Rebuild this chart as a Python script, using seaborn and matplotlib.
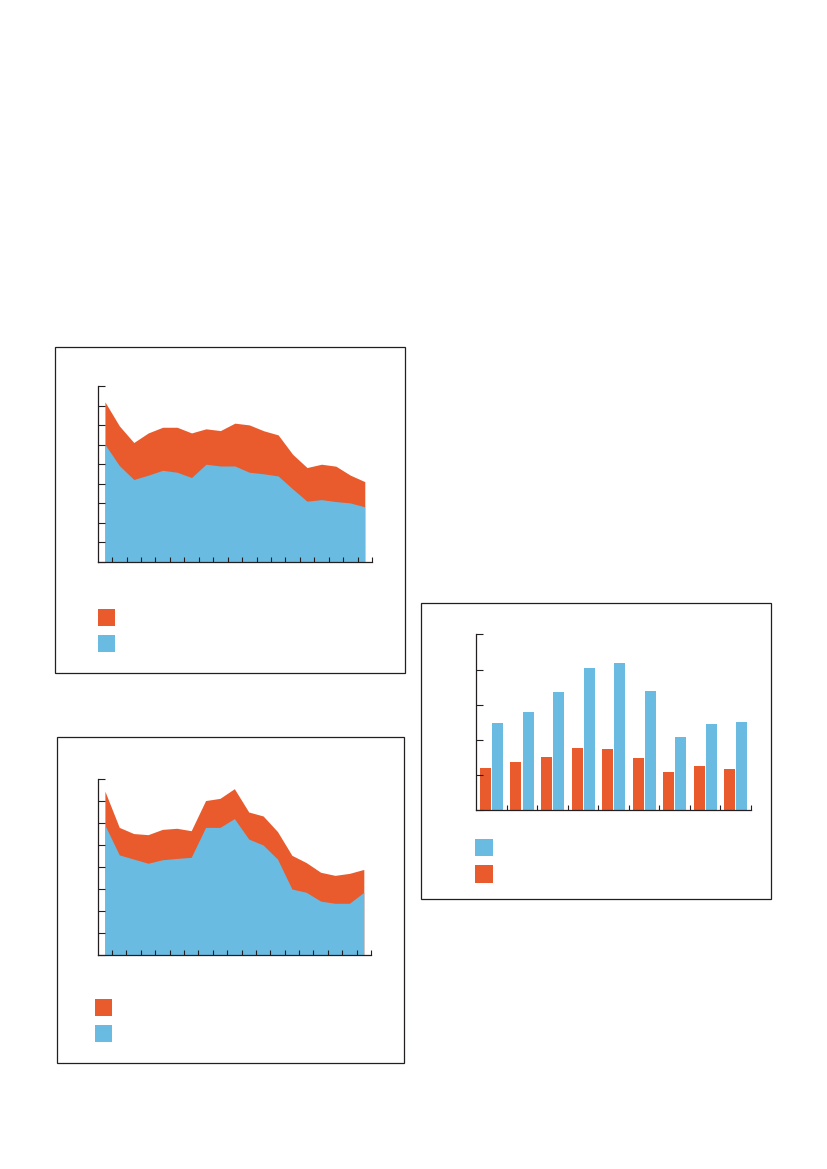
import numpy as np
import pandas as pd
import matplotlib
matplotlib.use("Agg")
import matplotlib.pyplot as plt
from matplotlib.patches import Rectangle
import seaborn as sns

ORANGE = "#e95b2c"
BLUE = "#69bbe2"

# top area chart: 19 points
area1_total = [8.19, 6.96, 6.11, 6.60, 6.89, 6.89, 6.60, 6.81, 6.72, 7.10,
               7.01, 6.71, 6.50, 5.51, 4.83, 5.00, 4.90, 4.44, 4.11]
area1_blue = [6.02, 4.93, 4.22, 4.44, 4.69, 4.59, 4.32, 5.00, 4.91, 4.91,
              4.59, 4.51, 4.40, 3.74, 3.11, 3.19, 3.09, 3.02, 2.82]

# bottom area chart
area2_total = [7.45, 5.80, 5.52, 5.47, 5.71, 5.76, 5.65, 7.02, 7.12, 7.56,
               6.50, 6.32, 5.61, 4.53, 4.20, 3.76, 3.62, 3.71, 3.89]
area2_blue = [5.91, 4.55, 4.36, 4.17, 4.33, 4.39, 4.44, 5.80, 5.80, 6.20,
              5.27, 5.00, 4.36, 3.00, 2.85, 2.45, 2.35, 2.35, 2.85]

# bar chart: 9 groups
bar_groups = ["1", "2", "3", "4", "5", "6", "7", "8", "9"]
bar_orange = [1.21, 1.36, 1.52, 1.76, 1.75, 1.49, 1.08, 1.27, 1.18]
bar_blue = [2.49, 2.80, 3.36, 4.03, 4.18, 3.38, 2.09, 2.46, 2.52]

sns.set_style("ticks")
plt.rcParams["font.family"] = ["DejaVu Sans"]
plt.rcParams["axes.axisbelow"] = False

W, H = 827, 1169
fig = plt.figure(figsize=(8.27, 11.69), dpi=100)


def px_axes(x0, y0, x1, y1):
    # pixel box (top-left origin) -> axes
    return fig.add_axes([x0 / W, 1 - y1 / H, (x1 - x0) / W, (y1 - y0) / H])


def frame(x0, y0, x1, y1):
    fig.add_artist(Rectangle((x0 / W, 1 - y1 / H), (x1 - x0) / W, (y1 - y0) / H,
                             transform=fig.transFigure, fill=False,
                             edgecolor="#231f20", linewidth=0.9))


def swatch(x0, y0, size, color):
    fig.add_artist(Rectangle((x0 / W, 1 - (y0 + size) / H), size / W, size / H,
                             transform=fig.transFigure, facecolor=color,
                             edgecolor="none"))


def style_axes(ax, ymax, xmax, xlen=3.6, ylen=4.8):
    sns.despine(ax=ax)
    ax.set_axisbelow(False)
    for s in ["left", "bottom"]:
        ax.spines[s].set_linewidth(0.9)
        ax.spines[s].set_color("#231f20")
    ax.set_ylim(0, ymax)
    ax.set_yticks(np.arange(0, ymax + 1))
    ax.set_xlim(-0.5, xmax + 0.5)
    ax.set_xticks(np.arange(0, xmax + 1) + 0.5)
    ax.set_xticklabels([])
    ax.set_yticklabels([])
    ax.tick_params(axis="x", direction="in", length=xlen, width=0.8, color="#231f20")
    ax.tick_params(axis="y", direction="in", length=ylen, width=0.8, color="#231f20")
    ax.set_xlabel("")
    ax.set_ylabel("")
    ax.set_facecolor("none")


def area_chart(ax, total, blue, ymax):
    x = np.arange(len(total))
    ax.fill_between(x, 0, total, color=ORANGE, linewidth=0)
    ax.fill_between(x, 0, blue, color=BLUE, linewidth=0)
    style_axes(ax, ymax, len(total) - 1)


# panel 1
frame(55, 347, 405, 673)
ax1 = px_axes(97.7, 386, 372, 562)
area_chart(ax1, area1_total, area1_blue, 9)
swatch(97.7, 609, 17, ORANGE)
swatch(97.7, 635, 17, BLUE)

# panel 2
frame(57, 737, 404, 1063)
ax2 = px_axes(97.7, 779, 371, 955)
area_chart(ax2, area2_total, area2_blue, 8)
swatch(94.5, 999, 17, ORANGE)
swatch(94.5, 1025, 17, BLUE)

# panel 3: grouped bars
frame(421, 603, 771, 899)
ax3 = px_axes(476.3, 634.3, 751, 810.3)
bars = pd.DataFrame({
    "group": bar_groups * 2,
    "series": ["orange"] * len(bar_groups) + ["blue"] * len(bar_groups),
    "value": bar_orange + bar_blue,
})
sns.barplot(data=bars, x="group", y="value", hue="series",
            order=bar_groups, hue_order=["orange", "blue"],
            palette=[ORANGE, BLUE], saturation=1, errorbar=None,
            width=0.8, gap=0.1, linewidth=0, legend=False, ax=ax3)
style_axes(ax3, 5, len(bar_groups) - 1, xlen=3.4, ylen=5.0)
swatch(475, 838.5, 17.5, BLUE)
swatch(475, 865, 17.5, ORANGE)

fig.savefig("out.png", dpi=100)
